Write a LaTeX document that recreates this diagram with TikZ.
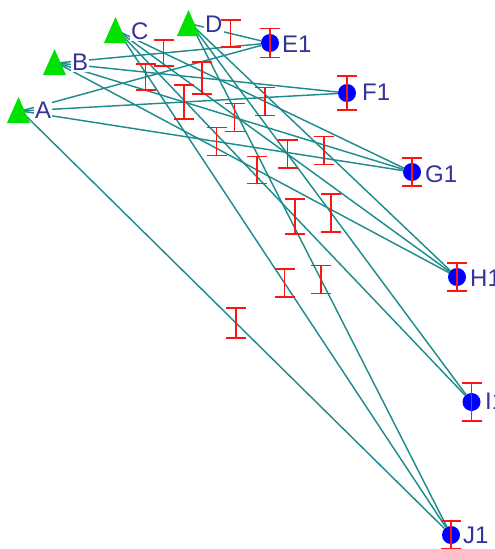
\documentclass[tikz,border=0pt]{standalone}
\usepackage{fontspec}
\setmainfont{Liberation Sans}
\usetikzlibrary{calc}

\definecolor{linkcol}{RGB}{30,140,140}
\definecolor{labelcol}{RGB}{51,51,153}
\definecolor{ctrlgreen}{RGB}{0,225,0}
\definecolor{ptblue}{RGB}{0,0,255}
\definecolor{barred}{RGB}{255,20,20}

\tikzset{
  link/.style={draw=linkcol, line width=1.45pt},
  barline/.style={draw=barred, line width=1.7pt},
  ptmark/.style={circle, fill=ptblue, inner sep=0pt, minimum size=18pt},
  ctrlmark/.style={fill=ctrlgreen},
  lbl/.style={anchor=west, fill=white, text=labelcol, inner sep=1pt,
              font=\fontsize{24}{24}\selectfont},
}

% vertical error bar centred on a coordinate, half height in pt
\newcommand{\errbar}[2]{%
  \draw[barline]
    ([shift={(-10pt,#2pt)}]#1) -- ([shift={(10pt,#2pt)}]#1)
    ([shift={(0pt,#2pt)}]#1) -- ([shift={(0pt,-#2pt)}]#1)
    ([shift={(-10pt,-#2pt)}]#1) -- ([shift={(10pt,-#2pt)}]#1);}

% control station triangle
\newcommand{\ctrltri}[1]{%
  \fill[ctrlmark] ([shift={(-14pt,-12pt)}]#1) -- ([shift={(9pt,-12pt)}]#1)
    -- ([shift={(-2.5pt,14pt)}]#1) -- cycle;}

\begin{document}
\begin{tikzpicture}[x=1pt,y=-1pt]
\useasboundingbox (0,0) rectangle (495,549);

% control stations
\coordinate (A) at (21,111);
\coordinate (B) at (57,63);
\coordinate (C) at (118,31);
\coordinate (D) at (191,24);

% new points
\node[ptmark] (E1) at (270,43) {};
\node[ptmark] (F1) at (347,93) {};
\node[ptmark] (G1) at (412,172) {};
\node[ptmark] (H1) at (457,277) {};
\node[ptmark] (I1) at (471.5,402) {};
\node[ptmark] (J1) at (451,535) {};

% baselines
\foreach \s/\t in {A/E1,A/F1,A/G1,A/J1,B/E1,B/F1,B/G1,B/H1,
                   C/G1,C/H1,C/I1,C/J1,D/E1,D/H1,D/I1,D/J1}
  \draw[link] (\s) -- (\t);

% station symbols and labels
\ctrltri{A} \ctrltri{B} \ctrltri{C} \ctrltri{D}
\node[lbl] (lA) at (34,110) {A};
\node[lbl] (lB) at (71,62.5) {B};
\node[lbl] (lC) at (130,31.5) {C};
\node[lbl] (lD) at (204,24) {D};
\node[lbl] (lE1) at (281,44) {E1};
\node[lbl] (lF1) at (361,92.5) {F1};
\node[lbl] (lG1) at (424,174) {G1};
\node[lbl] (lH1) at (469,278.5) {H1};
\node[lbl] (lI1) at (484,401) {I1};
\node[lbl] (lJ1) at (462,535) {J1};

% error bars at baseline midpoints
\foreach \s/\t/\h in {A/E1/13,A/F1/17,A/G1/14,A/J1/15,B/E1/13,B/F1/16,
                      B/G1/14,B/H1/13.5,C/G1/14,C/H1/14,C/I1/17.5,C/J1/14,
                      D/E1/13.5,D/H1/14,D/I1/19,D/J1/14}{
  \coordinate (m\s\t) at ($(\s)!0.5!(\t)$);
  \errbar{m\s\t}{\h}
}

% error bars at the new points
\errbar{E1.center}{14.5}
\errbar{F1.center}{17}
\errbar{G1.center}{14}
\errbar{H1.center}{14}
\errbar{I1.center}{19}
\errbar{J1.center}{14}
\end{tikzpicture}
\end{document}
